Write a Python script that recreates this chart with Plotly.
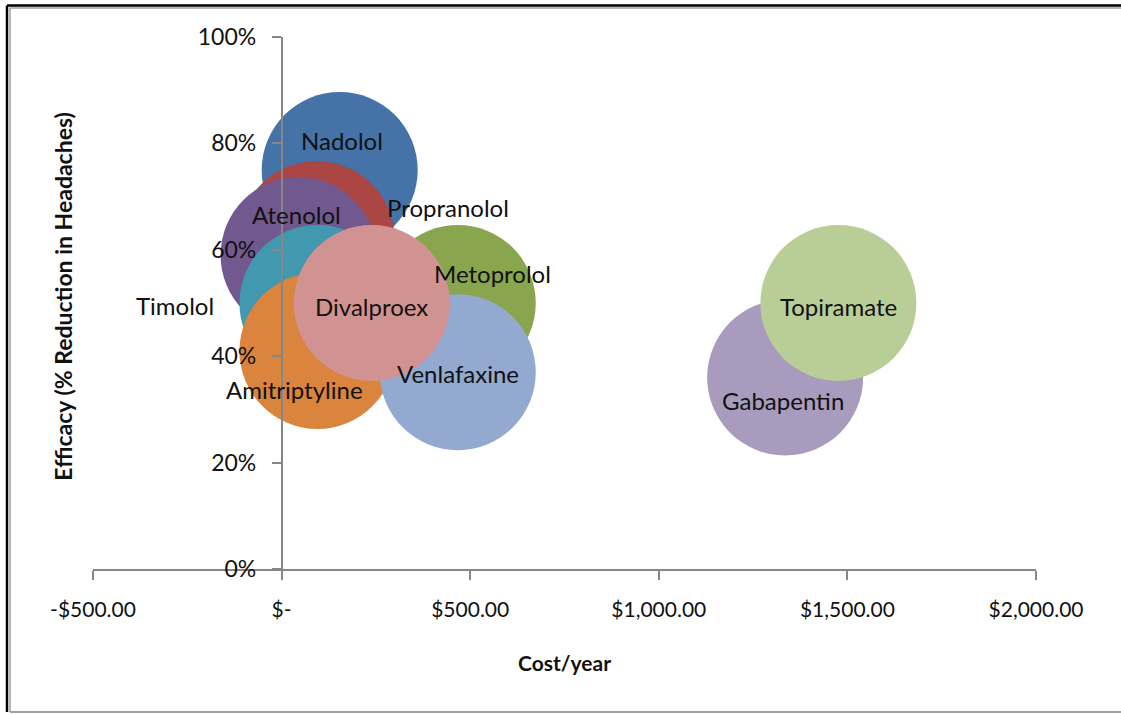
import plotly.graph_objects as go

# Migraine prophylaxis: annual cost vs. efficacy
drugs = ["Nadolol", "Propranolol", "Metoprolol", "Atenolol", "Timolol",
         "Amitriptyline", "Venlafaxine", "Divalproex", "Gabapentin", "Topiramate"]
cost_per_year = [154, 93, 467, 45, 95, 95, 467, 239, 1335, 1476]
efficacy = [0.75, 0.62, 0.50, 0.59, 0.50, 0.41, 0.37, 0.50, 0.36, 0.50]
bubble_size = [1, 1, 1, 1, 1, 1, 1, 1, 1, 1]

x_tick_vals = [-500, 0, 500, 1000, 1500, 2000]
x_tick_text = ["-$500.00", "$-", "$500.00", "$1,000.00", "$1,500.00", "$2,000.00"]
y_tick_vals = [0, 0.2, 0.4, 0.6, 0.8, 1.0]

colors = ["#4572A7", "#AA4643", "#89A54E", "#71588F", "#4198AF",
          "#DB843D", "#93A9CF", "#D19392", "#A99BBD", "#B9CD96"]

# label placement relative to each bubble centre (pixels)
label_shift = {
    "Nadolol": (2, 30), "Propranolol": (131, 32), "Metoprolol": (35, 30),
    "Atenolol": (-2, 41), "Timolol": (-142, -2), "Amitriptyline": (-23, -39),
    "Venlafaxine": (0, -1), "Divalproex": (0, -3), "Gabapentin": (-2, -23),
    "Topiramate": (0, -3),
}

FONT = "Lato, 'Open Sans', sans-serif"
TEXT = "#111111"
DIAMETER = 156

fig = go.Figure()
for name, x, y, s, c in zip(drugs, cost_per_year, efficacy, bubble_size, colors):
    fig.add_trace(go.Scatter(
        x=[x], y=[y], mode="markers", name=name,
        marker=dict(size=[s], sizemode="diameter", sizeref=1 / DIAMETER,
                    color=c, opacity=1, line=dict(width=0)),
        hoverinfo="name",
    ))

for name, x, y in zip(drugs, cost_per_year, efficacy):
    dx, dy = label_shift[name]
    fig.add_annotation(x=x, y=y, text=name, showarrow=False,
                       xshift=dx, yshift=dy,
                       font=dict(family=FONT, size=24, color=TEXT))

fig.update_layout(
    width=1121, height=714,
    margin=dict(l=93, r=85, t=37, b=145),
    paper_bgcolor="white", plot_bgcolor="white",
    showlegend=False,
    font=dict(family=FONT, size=20, color=TEXT),
    xaxis=dict(
        range=[-500, 2000], domain=[0, 1],
        tickvals=x_tick_vals, ticktext=x_tick_text,
        showgrid=False, zeroline=False,
        showline=True, linecolor="#868686", linewidth=1.5,
        ticks="outside", ticklen=9, tickcolor="#868686", tickwidth=1.5,
        ticklabelstandoff=12,
        tickfont=dict(family=FONT, size=21, color=TEXT),
        title=dict(text="<b>Cost/year</b>", standoff=36,
                   font=dict(family=FONT, size=21, color=TEXT)),
    ),
    yaxis=dict(
        range=[0, 1], anchor="free", position=0.2,
        tickvals=y_tick_vals, tickformat=".0%",
        showgrid=False, zeroline=False,
        showline=True, linecolor="#868686", linewidth=1.5,
        ticks="outside", ticklen=9, tickcolor="#868686", tickwidth=1.5,
        ticklabelstandoff=11,
        tickfont=dict(family=FONT, size=23, color=TEXT),
    ),
)

# y-axis title sits at the left edge of the chart area
fig.add_annotation(xref="paper", yref="paper", x=-0.0318, y=0.512,
                   xanchor="center", yanchor="middle",
                   text="<b>Efficacy (% Reduction in Headaches)</b>",
                   textangle=-90, showarrow=False,
                   font=dict(family=FONT, size=23, color=TEXT))

# chart frame
fig.add_shape(type="line", xref="paper", yref="paper",
              x0=-0.0912, x1=1.2, y0=1.0593, y1=1.0593,
              line=dict(color="#000000", width=2.5))
fig.add_shape(type="line", xref="paper", yref="paper",
              x0=-0.0912, x1=-0.0912, y0=1.0593, y1=-0.2688,
              line=dict(color="#000000", width=2.5))
fig.add_shape(type="line", xref="paper", yref="paper",
              x0=-0.0880, x1=1.2, y0=1.0545, y1=1.0545,
              line=dict(color="#A0A0A0", width=1.5))
fig.add_shape(type="line", xref="paper", yref="paper",
              x0=-0.0880, x1=-0.0880, y0=1.0545, y1=-0.2688,
              line=dict(color="#A0A0A0", width=1.5))
fig.add_shape(type="line", xref="paper", yref="paper",
              x0=-0.0880, x1=1.2, y0=-0.2688, y1=-0.2688,
              line=dict(color="#A0A0A0", width=2))

fig.write_html("out.html")
